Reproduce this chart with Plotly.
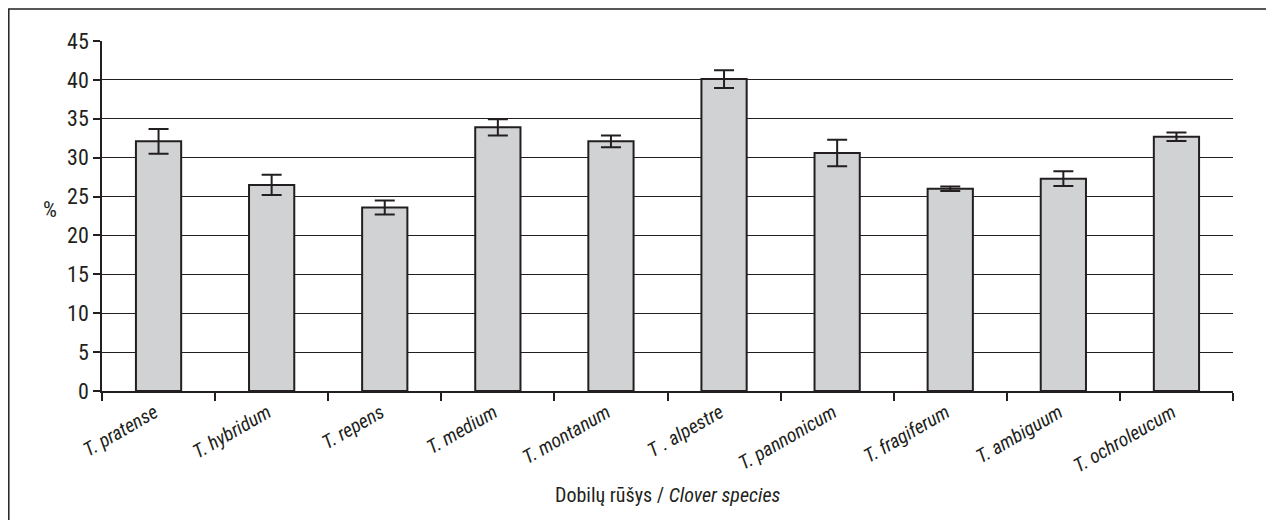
import plotly.graph_objects as go

species = ["T. pratense", "T. hybridum", "T. repens", "T. medium", "T. montanum",
           "T . alpestre", "T. pannonicum", "T. fragiferum", "T. ambiguum", "T. ochroleucum"]
values = [32.1, 26.5, 23.6, 33.9, 32.1, 40.1, 30.6, 26.0, 27.3, 32.7]
errors = [1.6, 1.3, 0.9, 1.05, 0.75, 1.15, 1.7, 0.3, 0.95, 0.55]
y_ticks = [0, 5, 10, 15, 20, 25, 30, 35, 40, 45]

FONT = "Roboto Condensed, DejaVu Sans Condensed, sans-serif"
INK = "#231f20"

fig = go.Figure(go.Bar(
    x=species, y=values,
    marker=dict(color="#d1d2d4", line=dict(color=INK, width=2)),
    error_y=dict(type="data", array=errors, visible=True, color=INK, thickness=2, width=10),
))

# page body has an 8px margin: figure coords = page coords - 8
W, H = 1266, 512
ml, mr, mt, mb = 94, 41, 33, 129
pw, ph = W - ml - mr, H - mt - mb

def px_x(x):
    return (x - ml) / pw

def px_y(y):
    return (H - mb - y) / ph

fig.update_layout(
    width=W, height=H,
    margin=dict(l=ml, r=mr, t=mt, b=mb),
    paper_bgcolor="white", plot_bgcolor="white",
    bargap=0.6, showlegend=False,
    font=dict(family=FONT, color=INK, size=20),
)
fig.update_xaxes(
    type="category", tickangle=-30, tickson="boundaries", automargin=False,
    ticks="outside", ticklen=8, tickcolor=INK, tickwidth=1.5,
    showline=True, linecolor=INK, linewidth=1.5,
    tickfont=dict(family=FONT, size=19.5, style="italic", color=INK),
    ticklabelstandoff=1, ticklabelshift=-4,
    showgrid=False,
)
fig.update_yaxes(
    range=[0, 45], tickvals=y_ticks, ticktext=[str(v) for v in y_ticks], automargin=False,
    ticks="outside", ticklen=7, tickcolor=INK, tickwidth=1.5,
    showline=True, linecolor=INK, linewidth=1.5,
    showgrid=True, gridcolor=INK, gridwidth=1,
    zeroline=False,
    tickfont=dict(family=FONT, size=22, color=INK),
)
fig.add_annotation(text="%", xref="paper", yref="paper",
                   x=px_x(42), y=px_y(201),
                   showarrow=False, font=dict(family=FONT, size=22, color=INK),
                   xanchor="center", yanchor="middle")
fig.add_annotation(text="Dobilų rūšys / <i>Clover species</i>", xref="paper", yref="paper",
                   x=0.5, y=px_y(487),
                   showarrow=False, font=dict(family=FONT, size=20, color=INK),
                   xanchor="center", yanchor="middle")
fig.add_shape(type="rect", xref="paper", yref="paper",
              x0=px_x(0.8), x1=px_x(1290),
              y0=px_y(540), y1=px_y(1),
              line=dict(color=INK, width=1.5), layer="below")

fig.write_html("out.html")
